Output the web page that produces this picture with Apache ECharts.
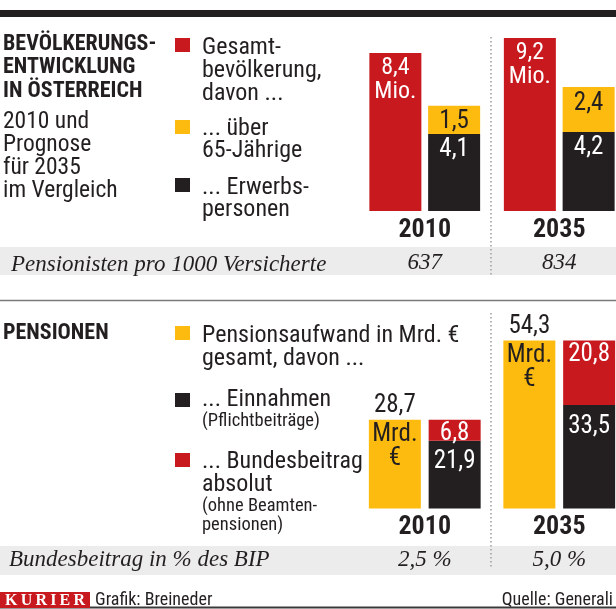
<!DOCTYPE html>
<html><head><meta charset="utf-8">
<script src="https://cdn.jsdelivr.net/npm/echarts@6/dist/echarts.min.js"></script>
<style>html,body{margin:0;padding:0;background:#fff}#c{width:616px;height:609px}</style>
</head><body><div id="c"></div>
<script>
// ---- data ----
const years = ['2010', '2035'];
const gesamtbevoelkerung = [8.4, 9.2];     // Mio.
const erwerbspersonen = [4.1, 4.2];
const ueber65 = [1.5, 2.4];
const pensionistenPro1000 = ['637', '834'];
const pensionsaufwand = [28.7, 54.3];       // Mrd. €
const einnahmen = [21.9, 33.5];
const bundesbeitrag = [6.8, 20.8];
const bundesbeitragBIP = ['2,5 %', '5,0 %'];

// ---- texts ----
const titleTop = ['BEVÖLKERUNGS-', 'ENTWICKLUNG', 'IN ÖSTERREICH'];
const subTop = ['2010 und', 'Prognose', 'für 2035', 'im Vergleich'];
const legTop1 = ['Gesamt-', 'bevölkerung,', 'davon ...'];
const legTop2 = ['... über', '65-Jährige'];
const legTop3 = ['... Erwerbs-', 'personen'];
const legBot1 = ['Pensionsaufwand in Mrd. €', 'gesamt, davon ...'];
const legBot2 = ['... Einnahmen'];
const legBot2s = ['(Pflichtbeiträge)'];
const legBot3 = ['... Bundesbeitrag', 'absolut'];
const legBot3s = ['(ohne Beamten-', 'pensionen)'];

const SANS = '"Liberation Sans Narrow","Roboto Condensed","Arial Narrow",Roboto,sans-serif';
const SERIF = '"Liberation Serif","DejaVu Serif",serif';
const DARK = '#231f20', RED = '#c8191f', YEL = '#fdbb10', BAND = '#ececec';
const fmt = v => v.toFixed(1).replace('.', ',');

function T(x, y, text, font, fill, align, sx) {
  return {type: 'text', x: x, y: y, scaleX: sx || 1, silent: true, z: 5,
    style: {text: text, font: font, fill: fill || DARK,
      align: align || 'left', textAlign: align || 'left',
      verticalAlign: 'middle', textVerticalAlign: 'middle'}};
}
function lines(x, y0, step, arr, font, sx) {
  return arr.map((t, i) => T(x, y0 + i * step, t, font, DARK, 'left', sx));
}
function sq(y, color) {
  return {type: 'rect', shape: {x: 175, y: y, width: 15, height: 14}, style: {fill: color}, silent: true};
}

const F_TITLE = 'bold 22px ' + SANS;
const F_SUB = '23.5px ' + SANS;
const F_LEG = '24px ' + SANS;
const F_SMALL = '18.5px ' + SANS;
const F_ITAL = 'italic 23px ' + SERIF;

const graphics = [
  {type: 'rect', z: -10, shape: {x: 0, y: 10, width: 616, height: 7}, style: {fill: DARK}, silent: true},
  {type: 'rect', z: -10, shape: {x: 0, y: 247, width: 616, height: 28}, style: {fill: BAND}, silent: true},
  {type: 'rect', z: -10, shape: {x: 0, y: 546, width: 616, height: 29}, style: {fill: BAND}, silent: true},
  {type: 'line', z: -5, shape: {x1: 0, y1: 300.5, x2: 616, y2: 300.5}, style: {stroke: '#7a7a7a', lineWidth: 1.5}, silent: true},
  {type: 'line', z: -5, shape: {x1: 491, y1: 37, x2: 491, y2: 275}, style: {stroke: '#a0a0a0', lineWidth: 1.5, lineDash: [1.5, 2.5]}, silent: true},
  {type: 'line', z: -5, shape: {x1: 491, y1: 313, x2: 491, y2: 569}, style: {stroke: '#a0a0a0', lineWidth: 1.5, lineDash: [1.5, 2.5]}, silent: true},
  {type: 'line', z: -5, shape: {x1: 0, y1: 607.5, x2: 616, y2: 607.5}, style: {stroke: '#3a3a3a', lineWidth: 2}, silent: true},
  {type: 'rect', z: 1, shape: {x: 0, y: 592, width: 90, height: 16}, style: {fill: RED}, silent: true},
  T(45, 600.5, 'K\u2009U\u2009R\u2009I\u2009E\u2009R', 'bold 16px ' + SERIF, '#fff', 'center'),
  T(95, 600, 'Grafik: Breineder', '18px ' + SANS),
  T(613, 600, 'Quelle: Generali', '18px ' + SANS, DARK, 'right'),
  sq(38, RED), sq(120, YEL), sq(178, DARK),
  sq(326, YEL), sq(393, DARK), sq(453, RED),
  T(3, 333, 'PENSIONEN', F_TITLE),
  T(11, 265, 'Pensionisten pro 1000 Versicherte', F_ITAL),
  T(9, 560, 'Bundesbeitrag in % des BIP', F_ITAL)
]
.concat(lines(3, 44, 23.5, titleTop, F_TITLE))
.concat(lines(3, 122, 23, subTop, F_SUB))
.concat(lines(202, 48, 23, legTop1, F_LEG))
.concat(lines(202, 129, 22, legTop2, F_LEG))
.concat(lines(202, 188, 22, legTop3, F_LEG))
.concat(lines(202, 336, 23, legBot1, F_LEG))
.concat(lines(202, 400, 21, legBot2, F_LEG))
.concat(lines(202, 421, 21, legBot2s, F_SMALL))
.concat(lines(202, 462, 23, legBot3, F_LEG))
.concat(lines(202, 506, 19, legBot3s, F_SMALL));

function xAx(gi, sub) {
  return {type: 'category', gridIndex: gi, data: years,
    axisLine: {show: false}, axisTick: {show: false}, splitLine: {show: false},
    axisLabel: {margin: 4, interval: 0,
      formatter: (v, i) => '{y|' + v + '}\n{v|' + sub[i] + '}',
      rich: {
        y: {fontFamily: SANS, fontWeight: 'bold', fontSize: 26, lineHeight: 30, color: DARK},
        v: {fontFamily: SERIF, fontStyle: 'italic', fontSize: 23, lineHeight: 36, color: DARK}
      }}};
}
function lab(color, dist, extra) {
  return Object.assign({show: true, position: 'insideTop', distance: dist, color: color,
    fontFamily: SANS, fontSize: 25, formatter: p => fmt(p.value)}, extra || {});
}

const option = {
  animation: false,
  backgroundColor: '#fff',
  grid: [
    {left: 357.5, width: 269, top: 23, height: 188, outerBoundsMode: 'none', containLabel: false},
    {left: 357.5, width: 269, top: 323, height: 185.4, outerBoundsMode: 'none', containLabel: false}
  ],
  xAxis: [xAx(0, pensionistenPro1000), xAx(1, bundesbeitragBIP)],
  yAxis: [
    {type: 'value', gridIndex: 0, min: 0, max: 10, show: false},
    {type: 'value', gridIndex: 1, min: 0, max: 60, show: false}
  ],
  series: [
    {name: 'Gesamtbevölkerung', type: 'bar', xAxisIndex: 0, yAxisIndex: 0, data: gesamtbevoelkerung,
      barWidth: 52, barGap: '13%', itemStyle: {color: RED},
      label: lab('#fff', 3, {fontSize: 24, lineHeight: 24, formatter: p => fmt(p.value) + '\nMio.'})},
    {name: 'Erwerbspersonen', type: 'bar', stack: 'pop', xAxisIndex: 0, yAxisIndex: 0, data: erwerbspersonen,
      barWidth: 52, itemStyle: {color: DARK}, label: lab('#fff', 3)},
    {name: 'über 65-Jährige', type: 'bar', stack: 'pop', xAxisIndex: 0, yAxisIndex: 0, data: ueber65,
      barWidth: 52, itemStyle: {color: YEL}, label: lab(DARK, 4)},
    {name: 'Pensionsaufwand', type: 'bar', xAxisIndex: 1, yAxisIndex: 1, data: pensionsaufwand,
      barWidth: 52, barGap: '15%', itemStyle: {color: YEL},
      label: lab(DARK, 0, {offset: [0, -31],
        formatter: p => '{v|' + fmt(p.value) + '}\n{u|Mrd.}\n{u|€}',
        rich: {v: {fontFamily: SANS, fontSize: 25, lineHeight: 34, color: DARK},
               u: {fontFamily: SANS, fontSize: 25, lineHeight: 24, color: DARK}}})},
    {name: 'Einnahmen', type: 'bar', stack: 'pen', xAxisIndex: 1, yAxisIndex: 1, data: einnahmen,
      barWidth: 52, itemStyle: {color: DARK}, label: lab('#fff', 9)},
    {name: 'Bundesbeitrag', type: 'bar', stack: 'pen', xAxisIndex: 1, yAxisIndex: 1, data: bundesbeitrag,
      barWidth: 52, itemStyle: {color: RED}, label: lab('#fff', 2)}
  ],
  graphic: {elements: graphics}
};
const chart = echarts.init(document.getElementById('c'), null, {renderer: 'canvas'});
chart.setOption(option);
</script></body></html>
